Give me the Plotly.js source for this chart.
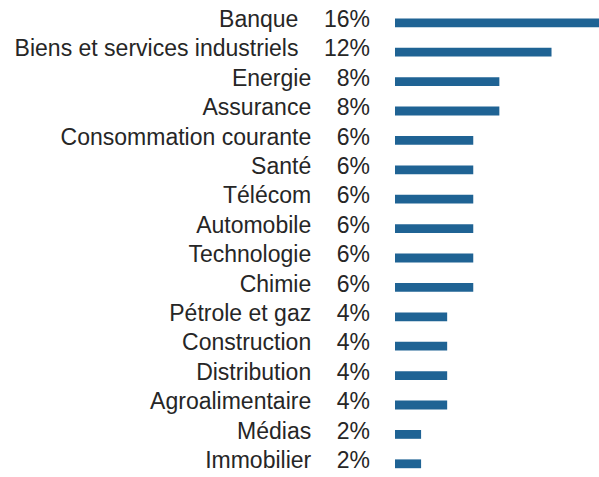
<!DOCTYPE html>
<html>
<head>
<meta charset="utf-8">
<script src="https://cdn.plot.ly/plotly-3.0.1.min.js"></script>
<style>html,body{margin:0;padding:0;background:#fff;}</style>
</head>
<body>
<div id="chart" style="width:599px;height:477px;"></div>
<script>
const categories = ["Banque","Biens et services industriels","Energie","Assurance","Consommation courante","Santé","Télécom","Automobile","Technologie","Chimie","Pétrole et gaz","Construction","Distribution","Agroalimentaire","Médias","Immobilier"];
const values = [16,12,8,8,6,6,6,6,6,6,4,4,4,4,2,2];
const valueLabels = ["16%","12%","8%","8%","6%","6%","6%","6%","6%","6%","4%","4%","4%","4%","2%","2%"];

const FONT = {family: "Liberation Sans, Arial, sans-serif", size: 23, color: "#262626"};
const idx = categories.map((c,i)=>i);
const GAP = "\u00a0\u00a0\u00a0\u00a0";
const tickText = categories.map((c,i)=> c + GAP + valueLabels[i]);

const trace = {
  type: "bar",
  orientation: "h",
  x: values,
  y: idx,
  width: 0.3,
  offset: -0.02,
  marker: {color: "#1f6394", line: {width: 0}},
  hoverinfo: "none"
};

const layout = {
  width: 599, height: 477,
  margin: {l: 395, r: 0, t: 0, b: 0, pad: 0},
  paper_bgcolor: "#fff", plot_bgcolor: "#fff",
  showlegend: false,
  xaxis: {range: [0, 15.64], visible: false, fixedrange: true},
  yaxis: {
    range: [15.579, -0.6455],
    tickmode: "array", tickvals: idx, ticktext: tickText,
    showgrid: false, zeroline: false, showline: false, ticks: "",
    ticklabelstandoff: 24,
    tickfont: FONT, fixedrange: true
  }
};

Plotly.newPlot("chart", [trace], layout, {displayModeBar: false, staticPlot: true});
</script>
</body>
</html>
